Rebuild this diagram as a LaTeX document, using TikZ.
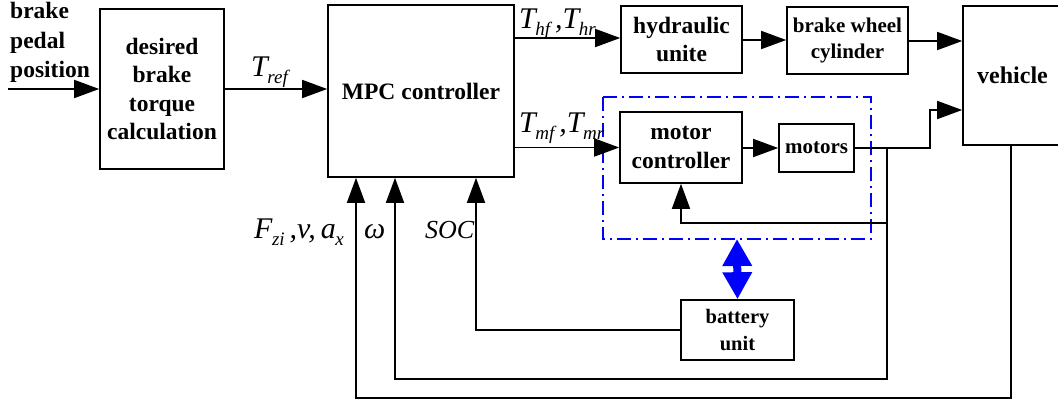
\documentclass[tikz,border=0pt]{standalone}
\usepackage{fontspec}
\setmainfont{Liberation Serif}
\usetikzlibrary{arrows.meta,calc}
\newcommand\sym[2]{#1\kern-0.5pt\raisebox{-7.5pt}{\fontsize{19}{19}\selectfont #2}}
\begin{document}
\begin{tikzpicture}[x=1pt,y=-1pt,
  blk/.style={draw,line width=1.6pt,inner sep=0pt,align=center,font=\bfseries\fontsize{23.5}{28.5}\selectfont},
  sblk/.style={blk,font=\bfseries\fontsize{21}{26}\selectfont},
  conn/.style={line width=1.6pt},
  arr/.style={conn,-{Triangle[length=25pt,width=18pt]}},
  lbl/.style={inner sep=0pt,anchor=base west,font=\itshape\fontsize{30}{30}\selectfont},
  grp/.style={draw=blue,line width=1.5pt,dash pattern=on 14pt off 5pt on 2pt off 5pt},
  dbl/.style={blue,line width=8pt,{Triangle[length=27pt,width=28pt]}-{Triangle[length=27pt,width=28pt]}}
]
\clip (0,0) rectangle (1058,405);
\fill[white] (0,0) rectangle (1058,405);
% group box
\draw[grp] (603,97) rectangle (871,239);
\coordinate (grpS) at (737,239);
% blocks
\node[blk,minimum width=124pt,minimum height=160pt] (des) at (162,89) {desired\\brake\\torque\\calculation};
\node[blk,minimum width=186pt,minimum height=172pt] (mpc) at (421,91) {MPC controller};
\node[blk,minimum width=121pt,minimum height=67pt] (hyd) at (681.5,39.5) {hydraulic\\unite};
\node[sblk,minimum width=121pt,minimum height=67pt] (bwc) at (847.5,40.5) {brake wheel\\cylinder};
\node[blk,minimum width=99pt,minimum height=139pt,font=\bfseries\fontsize{24}{28}\selectfont] (veh) at (1012.5,75.5) {vehicle};
\node[blk,minimum width=122pt,minimum height=71pt] (mc) at (681,147.5) {motor\\controller};
\node[sblk,minimum width=75pt,minimum height=48pt] (mot) at (816.5,148) {motors};
\node[sblk,font=\bfseries\fontsize{20.5}{27}\selectfont,minimum width=113pt,minimum height=60pt] (bat) at (737.5,330) {battery\\unit};
% input text
\node[inner sep=0pt,anchor=north west,align=left,font=\bfseries\fontsize{23.5}{29.5}\selectfont] (ped) at (10,2) {brake\\pedal\\position};
\coordinate (pin) at (8,89);
% connectors
\draw[arr] (pin) -- (des.west);
\draw[arr] (des.east) -- (des.east -| mpc.west);
\draw[arr] (mpc.east |- 0,38) -- (hyd.west |- 0,38);
\draw[arr] (hyd.east |- 0,40) -- (bwc.west |- 0,40);
\draw[arr] (bwc.east |- 0,41) -- (veh.west |- 0,41);
\draw[arr] (mpc.east |- mc.west) -- (mc.west);
\draw[arr] (mc.east |- mot.west) -- (mot.west);
\coordinate (j1) at (887,148);
\coordinate (j2) at (887,223);
\draw[arr] (mot.east) -- (930,148) -- (930,110) -- (veh.west |- 0,110);
\draw[arr] (mot.east -| j1) -- (887,379) -- (395,379) -- (395,0 |- mpc.south);
\draw[arr] (j2) -- (681,223) -- (mc.south -| 681,0);
\draw[arr] (bat.west) -- (476,330) -- (476,0 |- mpc.south);
\draw[arr] (veh.south -| 1011,0) -- (1011,398) -- (356,398) -- (356,0 |- mpc.south);
\draw[dbl] (grpS) -- (bat.north);
% labels
\node[lbl] (tref) at (251,76) {\sym{T}{ref}};
\node[lbl] (th) at (519,28) {\sym{T}{hf}\,,\sym{T}{hr}};
\node[lbl] (tm) at (519,132) {\sym{T}{mf}\,,\sym{T}{mr}};
\node[lbl] (fz) at (254,238) {\sym{F}{zi}\,,v,\,\sym{a}{x}};
\node[lbl] (om) at (364,238) {ω};
\node[lbl,font=\itshape\fontsize{26}{26}\selectfont] (soc) at (425,238) {SOC};
\end{tikzpicture}
\end{document}
